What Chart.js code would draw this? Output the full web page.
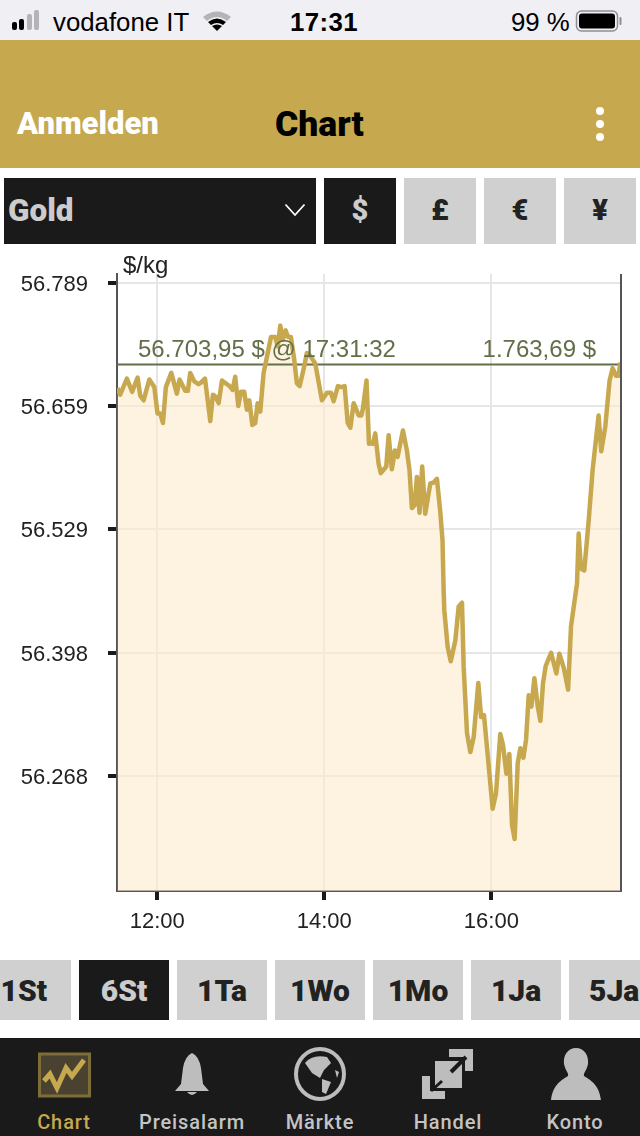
<!DOCTYPE html>
<html>
<head>
<meta charset="utf-8">
<title>Chart</title>
<script src="https://cdn.jsdelivr.net/npm/chart.js"></script>
<style>
  html, body { margin: 0; padding: 0; background: #fff; }
  body { width: 640px; height: 1136px; position: relative; overflow: hidden; font-family: Roboto, sans-serif; }
  .abs { position: absolute; }
  .status { left: 0; top: 0; width: 640px; height: 40px; background: #efeff4; }
  .status span { position: absolute; top: 7px; font: 25.8px/30px "Liberation Sans", sans-serif; color: #000; white-space: nowrap; }
  .head { left: 0; top: 40px; width: 640px; height: 128px; background: #c6a84f; }
  .btn { position: absolute; text-align: center; font-weight: 900; white-space: nowrap; overflow: hidden; }
  .cur { top: 178px; width: 72px; height: 66px; line-height: 64px; font-size: 29px; background: #d0d0d0; color: #222; }
  .cur.on, .rng.on { background: #1a1a1a; color: #ccc; }
  .rng { top: 960px; width: 90px; height: 60px; line-height: 62px; font-size: 30px; background: #d0d0d0; color: #222; }
  .nav { left: 0; top: 1038px; width: 640px; height: 98px; background: #1a1a1a; }
  .nav span { position: absolute; top: 72px; width: 130px; text-align: center; font: 500 20px/24px Roboto, sans-serif; letter-spacing: .9px; color: #c4c4c4; }
  #wrap { left: 0; top: 250px; width: 640px; height: 700px; }
</style>
</head>
<body>
<div class="abs status">
  <svg class="abs" style="left:0;top:0" width="60" height="40">
    <rect x="12" y="22" width="5" height="8" rx="2" fill="#000"/>
    <rect x="19" y="19" width="5" height="11" rx="2" fill="#000"/>
    <rect x="27" y="14" width="5" height="16" rx="2" fill="#b4b4b8"/>
    <rect x="34" y="10" width="5" height="20" rx="2" fill="#b4b4b8"/>
  </svg>
  <span style="left:53px">vodafone IT</span>
  <svg class="abs" style="left:200px;top:8px" width="34" height="26">
    <path d="M3 9 Q17 -2 31 9 L27 13 Q17 5 7 13 Z" fill="#b4b4b8"/>
    <path d="M8 14 Q17 7 26 14 L23 17 Q17 13 11 17 Z" fill="#000"/>
    <path d="M12 18 Q17 15 22 18 L17 23 Z" fill="#000"/>
  </svg>
  <span style="left:290px;font-weight:700;letter-spacing:.4px">17:31</span>
  <span style="left:511px">99 %</span>
  <svg class="abs" style="left:575px;top:9px" width="50" height="24">
    <rect x="1.5" y="2" width="41" height="20" rx="5" fill="none" stroke="#8e8e93" stroke-width="1.5"/>
    <rect x="4" y="4.5" width="36" height="15" rx="3" fill="#000"/>
    <rect x="44.5" y="8" width="2" height="8" rx="1" fill="#8e8e93"/>
  </svg>
</div>
<div class="abs head">
  <div class="abs" style="left:17px;top:66px;font:900 31px/36px Roboto,sans-serif;color:#fff">Anmelden</div>
  <div class="abs" style="left:275px;top:64px;font:900 35.5px/40px Roboto,sans-serif;color:#000">Chart</div>
  <svg class="abs" style="left:590px;top:66px" width="20" height="36">
    <circle cx="10" cy="5" r="4" fill="#fff"/><circle cx="10" cy="18" r="4" fill="#fff"/><circle cx="10" cy="31" r="4" fill="#fff"/>
  </svg>
</div>
<div class="btn" style="left:4px;top:178px;width:312px;height:66px;background:#1a1a1a;color:#ccc;font-size:31.5px;line-height:66px;text-align:left;padding-left:4px;box-sizing:border-box">Gold</div>
<svg class="abs" style="left:284px;top:203px" width="22" height="14"><path d="M1.5 1.5 L11 12 L20.5 1.5" fill="none" stroke="#fff" stroke-width="1.8"/></svg>
<div class="btn cur on" style="left:324px">$</div>
<div class="btn cur" style="left:404px">£</div>
<div class="btn cur" style="left:484px">€</div>
<div class="btn cur" style="left:564px">¥</div>

<div class="abs" id="wrap"><canvas id="chart" width="640" height="700"></canvas></div>

<div class="btn rng" style="left:-19px;text-align:right;box-sizing:border-box"><span style="margin-right:24px">1St</span></div>
<div class="btn rng on" style="left:79px">6St</div>
<div class="btn rng" style="left:177px">1Ta</div>
<div class="btn rng" style="left:275px">1Wo</div>
<div class="btn rng" style="left:373px">1Mo</div>
<div class="btn rng" style="left:471px">1Ja</div>
<div class="btn rng" style="left:569px;width:71px;text-align:left;padding-left:20px;box-sizing:border-box">5Ja</div>

<div class="abs nav">
  <svg class="abs" style="left:0;top:0" width="640" height="72">
    <rect x="39.5" y="16" width="50" height="42" fill="#4a4230" stroke="#7f6d38" stroke-width="3"/>
    <path d="M44 43 L50 36 L57 50 L66 30 L72 38 L84 22" fill="none" stroke="#c6a84f" stroke-width="5"/>
    <path d="M192 15 Q199 18 201 30 L203 46 L209 53 L175 53 L181 46 L183 30 Q185 18 192 15 Z" fill="#bdbdbd"/>
    <path d="M187 54 L197 54 Q192 60 187 54 Z" fill="#bdbdbd"/>
    <ellipse cx="320" cy="36" rx="24" ry="25" fill="none" stroke="#bdbdbd" stroke-width="4"/>
    <path d="M305 25 Q312 16 327 19 L331 25 L324 32 L320 40 L312 35 Z M322 41 L331 44 L326 56 L322 54 Z M335 32 L339 34 L337 40 Z" fill="#bdbdbd"/>
    <rect x="435" y="23" width="27" height="27" fill="#bdbdbd"/>
    <path d="M449 11 H473 V33 H465 V19 H449 Z" fill="#bdbdbd"/>
    <path d="M451 34 L466 19" stroke="#1a1a1a" stroke-width="4"/>
    <path d="M422 38 H430 V53 H445 V61 H422 Z" fill="#bdbdbd"/>
    <path d="M431 53 L442 43" stroke="#1a1a1a" stroke-width="3"/>
    <path d="M576 10 C584 10 589 17 588 26 C587 32 583 35 584 38 C590 42 599 46 601 62 L551 62 C553 46 562 42 568 38 C569 35 565 32 564 26 C563 17 568 10 576 10 Z" fill="#bdbdbd"/>
  </svg>
  <span style="left:-1px;color:#c6a84f">Chart</span>
  <span style="left:127px">Preisalarm</span>
  <span style="left:255px">Märkte</span>
  <span style="left:383px">Handel</span>
  <span style="left:510px">Konto</span>
</div>

<script>
// minutes relative to 12:00
const minutes = [-28.5,-26.6,-21.8,-18,-14.1,-12.2,-9.8,-5.7,-2.1,0.2,2.2,4.1,6.2,10.1,14.1,16,20.1,22,23.7,26.6,29.7,31.6,34.3,38.1,40,41.9,44.1,46.5,50.1,52,54.1,56,58.2,60.1,62.5,64.4,66.1,68.3,70.4,72.1,74,76.4,78.8,81.7,84.8,86.5,88.4,90.1,92.2,93.9,96,98.4,100.3,102.3,105.6,107.5,109.9,113.5,118.3,121.9,124.8,126.7,129.8,132,134.6,136.8,138.7,141.1,144.7,146.6,147.7,150.3,152.1,152.5,154.9,156.6,159,160.6,164.5,166.2,168.5,170.7,172.6,176.5,179.3,181.2,182.9,184.8,186.5,188.4,190.3,192.5,196.1,198.5,200.9,203.3,204.9,205.7,206.2,208.6,210.8,214.1,216.5,218.9,220.1,222.5,224.9,227.3,230.6,232.6,234.7,238.1,240.9,243.3,246.4,248.4,250.8,252.9,254.8,256.7,258.9,260.8,263,264.9,266.8,268.7,270.9,273.3,275.2,277.1,279,282.9,286.7,288.8,292,295.1,297.2,300.8,301.5,302.7,304.3,306.7,309.9,312.7,317,318.9,321.8,324.9,327.1,329.5,331.4,332.6];
const prices = [56679,56672,56689,56675,56690,56671,56666,56688,56680,56652,56652,56642,56680,56695,56673,56688,56676,56676,56695,56686,56683,56685,56689,56644,56672,56670,56663,56687,56683,56681,56677,56691,56660,56675,56675,56656,56666,56640,56642,56663,56654,56695,56712,56733,56733,56723,56745,56730,56740,56733,56733,56709,56684,56681,56702,56716,56713,56705,56666,56674,56674,56665,56681,56680,56681,56642,56637,56663,56650,56650,56657,56687,56620,56621,56620,56631,56599,56589,56596,56629,56593,56613,56606,56634,56613,56592,56552,56555,56585,56547,56596,56546,56578,56579,56583,56548,56518,56465,56444,56405,56390,56412,56448,56452,56384,56314,56294,56310,56367,56331,56333,56279,56234,56250,56313,56301,56271,56292,56217,56202,56282,56298,56288,56307,56354,56342,56372,56342,56327,56367,56385,56399,56377,56398,56383,56360,56427,56465,56472,56525,56488,56486,56539,56592,56650,56612,56638,56687,56700,56692,56692,56706];

const yTicks = [56790.4, 56659.6, 56529.5, 56399, 56268.6];
const yTickLabels = ['56.789', '56.659', '56.529', '56.398', '56.268'];
const xTicks = [0, 120, 240];
const xTickLabels = ['12:00', '14:00', '16:00'];
const lastPrice = 56703.95;
const priceLabel = '56.703,95 $ @ 17:31:32';
const changeLabel = '1.763,69 $';
const unitLabel = '$/kg';

const xMin = -28.9, xMax = 333.1;
const yMin = 56147, yMax = 56799.6;

const fontName = '"Liberation Sans", Arial, sans-serif';

// labels and right edge on top of the plot, placed from the chart's own scales
const overlayText = {
  id: 'overlayText',
  afterDatasetsDraw(chart) {
    const c = chart.ctx, y = chart.scales.y.getPixelForValue(lastPrice), area = chart.chartArea;
    c.save();
    c.strokeStyle = '#555';
    c.lineWidth = 2;
    c.beginPath();
    c.moveTo(area.right, area.top);
    c.lineTo(area.right, area.bottom);
    c.stroke();
    c.font = '24px ' + fontName;
    c.fillStyle = '#626f48';
    c.textBaseline = 'alphabetic';
    c.textAlign = 'left';
    c.fillText(priceLabel, 138, y - 7);
    c.textAlign = 'right';
    c.fillText(changeLabel, 596, y - 7);
    c.fillStyle = '#222';
    c.textAlign = 'left';
    c.fillText(unitLabel, 123, 23);
    c.restore();
  }
};

new Chart(document.getElementById('chart').getContext('2d'), {
  type: 'line',
  data: {
    datasets: [{
      data: minutes.map((m, i) => ({x: m, y: prices[i]})),
      borderColor: '#c7a84f',
      backgroundColor: 'rgba(253,235,203,0.6)',
      borderWidth: 4.5,
      borderJoinStyle: 'round',
      pointRadius: 0,
      tension: 0,
      fill: 'origin'
    }, {
      data: [{x: xMin, y: lastPrice}, {x: xMax, y: lastPrice}],
      borderColor: '#626f48',
      borderWidth: 2,
      pointRadius: 0,
      fill: false
    }]
  },
  options: {
    responsive: false,
    animation: false,
    devicePixelRatio: 1,
    layout: { padding: { top: 24, right: 19, left: 0, bottom: 0 } },
    plugins: {
      legend: { display: false },
      tooltip: { enabled: false },
      filler: { drawTime: 'beforeDatasetsDraw' }
    },
    scales: {
      x: {
        type: 'linear',
        min: xMin,
        max: xMax,
        afterBuildTicks: s => { s.ticks = xTicks.map(v => ({value: v})); },
        afterFit: s => { s.height = 59; s.paddingLeft = 0; s.paddingRight = 0; },
        ticks: {
          autoSkip: false,
          maxRotation: 0,
          padding: 9,
          color: '#222',
          font: { family: fontName, size: 22 },
          callback: v => xTickLabels[xTicks.indexOf(v)]
        },
        grid: {
          color: '#e6e6e6',
          lineWidth: 2,
          tickColor: '#1a1a1a',
          tickWidth: 4,
          tickLength: 9
        },
        border: { color: '#555', width: 2 }
      },
      y: {
        type: 'linear',
        min: yMin,
        max: yMax,
        afterBuildTicks: s => { s.ticks = yTicks.map(v => ({value: v})); },
        afterFit: s => { s.width = 117; s.paddingTop = 0; s.paddingBottom = 0; },
        ticks: {
          autoSkip: false,
          padding: 20,
          color: '#222',
          // empty first line with a small line height nudges the label 2px down
          font: { family: fontName, size: 22, lineHeight: '4px' },
          callback: v => ['', yTickLabels[yTicks.indexOf(v)]]
        },
        grid: {
          color: '#e6e6e6',
          lineWidth: 2,
          tickColor: '#1a1a1a',
          tickWidth: 4,
          tickLength: 9
        },
        border: { color: '#555', width: 2 }
      }
    }
  },
  plugins: [overlayText]
});
</script>
</body>
</html>
